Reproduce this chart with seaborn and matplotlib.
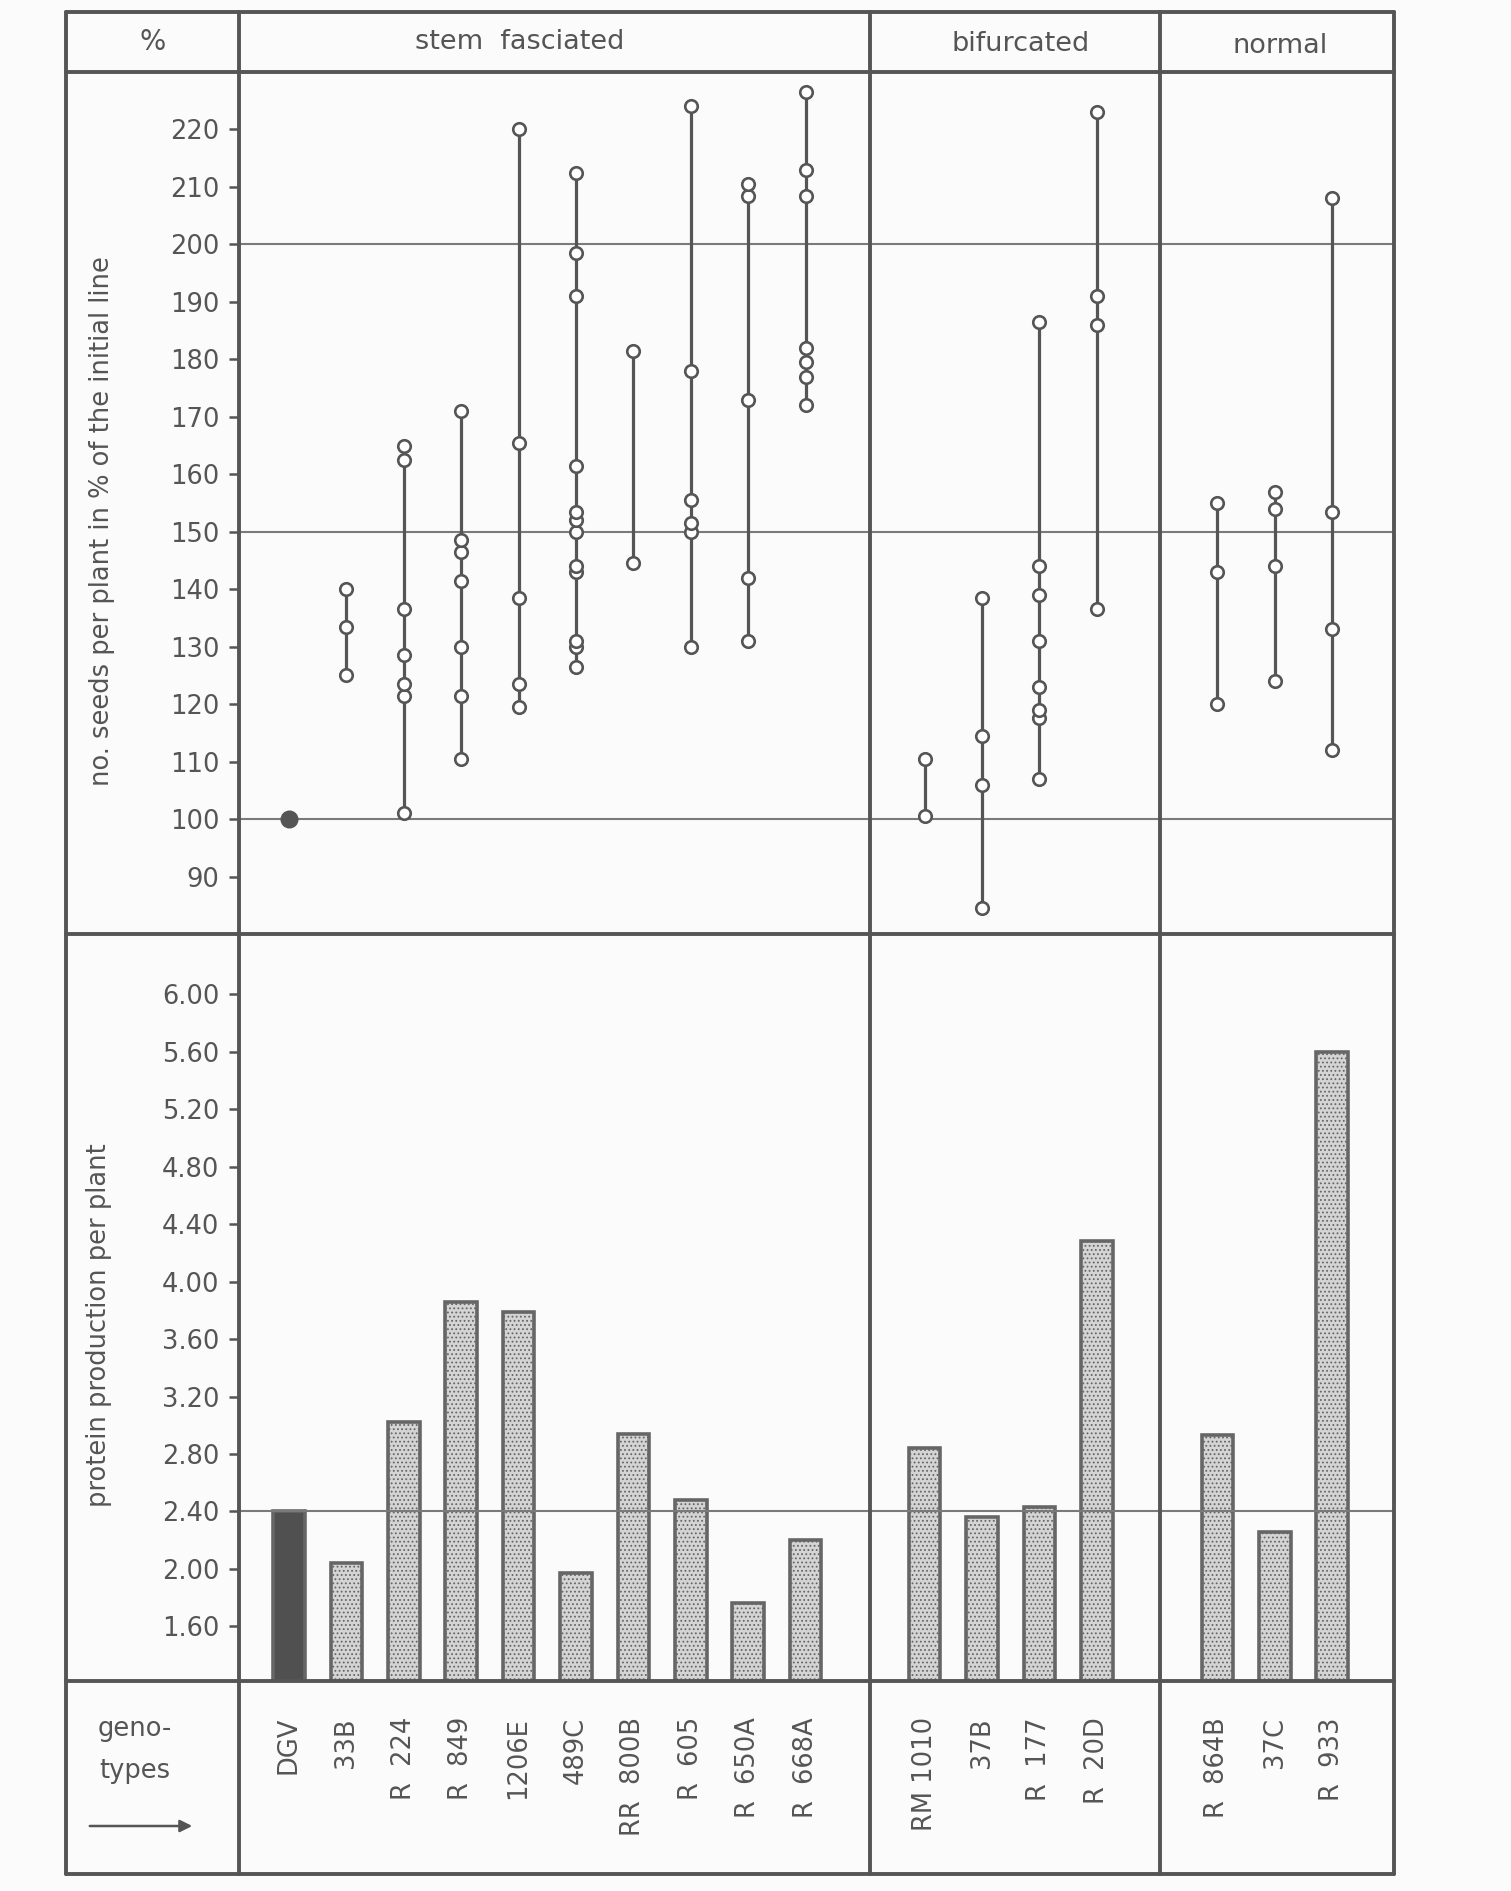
import numpy as np
import pandas as pd
import matplotlib
matplotlib.use("Agg")
import matplotlib.pyplot as plt
import seaborn as sns
from matplotlib.lines import Line2D

# genotypes, one list per column group of the table
stem_names = ["DGV", "33B", "R  224", "R  849", "1206E", "489C",
              "RR  800B", "R  605", "R  650A", "R  668A"]
bif_names = ["RM 1010", "37B", "R  177", "R  20D"]
norm_names = ["R  864B", "37C", "R  933"]

# no. seeds per plant in % of the initial line (single plants per genotype)
seeds_stem = [
    [100],
    [125, 133.5, 140],
    [101, 121.5, 123.5, 128.5, 136.5, 162.5, 165],
    [110.5, 121.5, 130, 141.5, 146.5, 148.5, 171],
    [119.5, 123.5, 138.5, 165.5, 220],
    [126.5, 130, 131, 143, 144, 150, 152, 153.5, 161.5, 191, 198.5, 212.5],
    [144.5, 181.5],
    [130, 150, 151.5, 155.5, 178, 224],
    [131, 142, 173, 208.5, 210.5],
    [172, 177, 179.5, 182, 208.5, 213, 226.5],
]
seeds_bif = [
    [100.5, 110.5],
    [84.5, 106, 114.5, 138.5],
    [107, 117.5, 119, 123, 131, 139, 144, 186.5],
    [136.5, 186, 191, 223],
]
seeds_norm = [
    [120, 143, 155],
    [124, 144, 154, 157],
    [112, 133, 153.5, 208],
]

# protein production per plant
protein_stem = [2.40, 2.04, 3.02, 3.86, 3.79, 1.97, 2.94, 2.48, 1.76, 2.20]
protein_bif = [2.84, 2.36, 2.43, 4.28]
protein_norm = [2.93, 2.26, 5.60]

seed_ticks = list(range(90, 230, 10))
protein_ticks = [1.60, 2.00, 2.40, 2.80, 3.20, 3.60, 4.00, 4.40, 4.80, 5.20, 5.60, 6.00]
seed_lines = [100, 150, 200]
protein_lines = [2.40]

sns.set_theme(style="white")
plt.rcParams["font.family"] = ["DejaVu Sans"]
plt.rcParams["hatch.linewidth"] = 0.8

ink = "#555555"
W, H = 1511, 1891
fig = plt.figure(figsize=(W / 100, H / 100), dpi=100, facecolor="#fbfbfb")


def fx(px):
    return px / W


def fy(py):
    return 1 - py / H


# column edges in pixels and left padding in category units
cols = [(239, 870, 0.87), (870, 1160, 0.95), (1160, 1394, 1.0)]
groups = [(stem_names, seeds_stem, protein_stem),
          (bif_names, seeds_bif, protein_bif),
          (norm_names, seeds_norm, protein_norm)]
step = 57.4
top_y, mid_y, bot_y = 72, 934, 1681

for i, ((x0, x1, pad), (names, seeds, protein)) in enumerate(zip(cols, groups)):
    xl = (-pad, (x1 - x0) / step - pad)

    # upper panel: seeds per plant
    ax = fig.add_axes([fx(x0), fy(mid_y), fx(x1 - x0), (mid_y - top_y) / H])
    ax.set_facecolor("none")
    df = pd.DataFrame([(n, v) for n, vals in zip(names, seeds) for v in vals],
                      columns=["genotype", "seeds"])
    rng = df.groupby("genotype", sort=False)["seeds"].agg(["min", "max"]).reindex(names)
    ax.vlines(range(len(names)), rng["min"], rng["max"], color=ink, lw=2.3, zorder=2)
    open_df = df[df["genotype"] != "DGV"]
    sns.stripplot(data=open_df, x="genotype", y="seeds", order=names, jitter=False,
                  color="white", edgecolor=ink, linewidth=1.9, size=9, ax=ax, zorder=3)
    if "DGV" in names:
        sns.stripplot(data=df[df["genotype"] == "DGV"], x="genotype", y="seeds",
                      order=names, jitter=False, color=ink, size=13, ax=ax, zorder=3)
    for v in seed_lines:
        ax.axhline(v, color="#7a7a7a", lw=1.5, zorder=1)
    ax.set_ylim(80, 230)
    ax.set_xlim(*xl)
    ax.set_xlabel("")
    ax.set_ylabel("")
    ax.set_xticks([])
    for s in ax.spines.values():
        s.set_visible(False)
    if i == 0:
        ax.set_yticks(seed_ticks)
        ax.set_yticklabels([str(t) for t in seed_ticks])
        ax.tick_params(axis="y", left=True, direction="out", length=7, width=1.8,
                       color=ink, labelcolor=ink, labelsize=18.5, pad=7)
    else:
        ax.set_yticks([])

    # lower panel: protein production
    bx = fig.add_axes([fx(x0), fy(bot_y), fx(x1 - x0), (bot_y - mid_y) / H])
    bx.set_facecolor("none")
    pdf = pd.DataFrame({"genotype": names, "protein": protein})
    pal = {n: ("#505050" if n == "DGV" else "#d4d4d4") for n in names}
    sns.barplot(data=pdf, x="genotype", y="protein", order=names, hue="genotype",
                palette=pal, legend=False, width=0.55, saturation=1,
                edgecolor="#666666", linewidth=2.6, ax=bx, zorder=2)
    for patch, n in zip(bx.patches, names):
        if n != "DGV":
            patch.set_hatch("....")
    for v in protein_lines:
        bx.axhline(v, color="#7a7a7a", lw=1.5, zorder=3)
    bx.set_ylim(1.22, 6.42)
    bx.set_xlim(*xl)
    bx.set_xlabel("")
    bx.set_ylabel("")
    bx.set_xticks(range(len(names)))
    bx.set_xticklabels(names, rotation=90, va="top", ha="center")
    bx.tick_params(axis="x", bottom=False, length=0, pad=26, labelsize=18.5,
                   labelcolor=ink)
    for s in bx.spines.values():
        s.set_visible(False)
    if i == 0:
        bx.set_yticks(protein_ticks)
        bx.set_yticklabels(["%.2f" % t for t in protein_ticks])
        bx.tick_params(axis="y", left=True, direction="out", length=7, width=1.8,
                       color=ink, labelcolor=ink, labelsize=18.5, pad=7)
    else:
        bx.set_yticks([])

# table frame
lw = 2.8
frame = [((66, 1394), (12, 12)), ((66, 1394), (1874, 1874)),
         ((66, 66), (12, 1874)), ((1394, 1394), (12, 1874)),
         ((66, 1394), (top_y, top_y)), ((66, 1394), (mid_y, mid_y)),
         ((66, 1394), (bot_y, bot_y)),
         ((239, 239), (12, 1874)), ((870, 870), (12, 1874)), ((1160, 1160), (12, 1874))]
for xs, ys in frame:
    fig.add_artist(Line2D([fx(x) for x in xs], [fy(y) for y in ys], color=ink, lw=lw))

# header and side texts
tk = dict(color=ink, ha="center", va="center")
fig.text(fx(153), fy(42), "%", fontsize=20, **tk)
fig.text(fx(520), fy(42), "stem  fasciated", fontsize=19.5, **tk)
fig.text(fx(1021), fy(44), "bifurcated", fontsize=19.5, **tk)
fig.text(fx(1280), fy(46), "normal", fontsize=19.5, **tk)
fig.text(fx(102), fy(521), "no. seeds per plant in % of the initial line",
         rotation=90, fontsize=18.5, **tk)
fig.text(fx(99), fy(1325), "protein production per plant",
         rotation=90, fontsize=18.5, **tk)
fig.text(fx(135), fy(1729), "geno-", fontsize=18.5, **tk)
fig.text(fx(135), fy(1771), "types", fontsize=18.5, **tk)
fig.add_artist(matplotlib.patches.FancyArrowPatch(
    (fx(87), fy(1826)), (fx(195), fy(1826)), transform=fig.transFigure,
    arrowstyle="-|>", mutation_scale=18, color=ink, lw=1.8))

fig.savefig("out.png", dpi=100, facecolor=fig.get_facecolor())
